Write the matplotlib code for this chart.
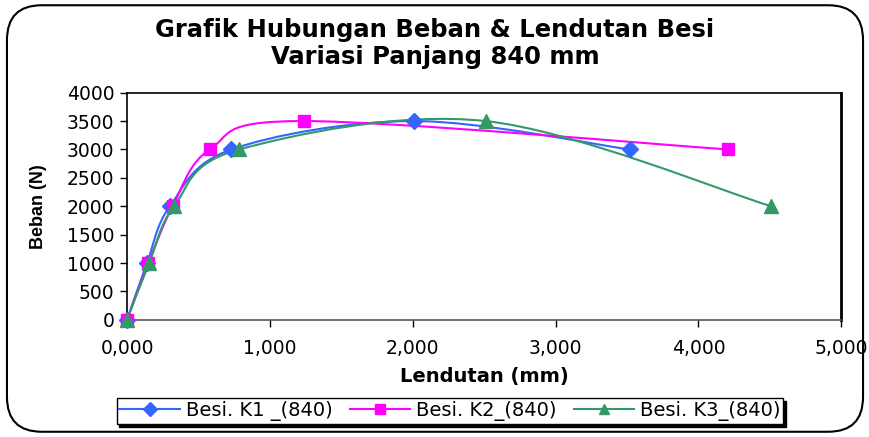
import matplotlib.pyplot as plt
import numpy as np
from matplotlib.path import Path
from matplotlib.patches import PathPatch, FancyBboxPatch
from matplotlib.lines import Line2D

plt.rcParams['font.family'] = ['DejaVu Sans']

beban = [0, 1000, 2000, 3000, 3500, 3000]
lendutan_k1 = [0.0, 0.14, 0.30, 0.73, 2.01, 3.52]

beban_k2 = [0, 1000, 2000, 3000, 3500, 3000]
lendutan_k2 = [0.0, 0.15, 0.32, 0.58, 1.24, 4.21]

beban_k3 = [0, 1000, 2000, 3000, 3500, 2000]
lendutan_k3 = [0.0, 0.155, 0.33, 0.785, 2.51, 4.51]

x_ticks = [0, 1, 2, 3, 4, 5]
x_labels = ['0,000', '1,000', '2,000', '3,000', '4,000', '5,000']
y_ticks = [0, 500, 1000, 1500, 2000, 2500, 3000, 3500, 4000]


# smoothed line through the points (cubic bezier, catmull-rom style)
def smooth_path(ax, xs, ys, color):
    pts = np.array([ax.transData.transform((x, y)) for x, y in zip(xs, ys)])
    verts = [pts[0]]
    codes = [Path.MOVETO]
    n = len(pts)
    for i in range(n - 1):
        p0 = pts[i - 1] if i > 0 else pts[i]
        p1 = pts[i]
        p2 = pts[i + 1]
        p3 = pts[i + 2] if i + 2 < n else pts[i + 1]
        c1 = p1 + (p2 - p0) / 6
        c2 = p2 - (p3 - p1) / 6
        verts += [c1, c2, p2]
        codes += [Path.CURVE4] * 3
    patch = PathPatch(Path(verts, codes), facecolor='none', edgecolor=color, lw=1.5,
                      transform=None, zorder=2)
    ax.add_artist(patch)


fig = plt.figure(figsize=(8.7, 4.37), dpi=100)

# rounded chart border
frame = FancyBboxPatch((0.008, 0.012), 0.984, 0.976, boxstyle='round,pad=0,rounding_size=0.04',
                       transform=fig.transFigure, facecolor='white', edgecolor='black', lw=1.5,
                       mutation_aspect=2.0, zorder=-1)
fig.patches.append(frame)

ax = fig.add_axes([0.146, 0.268, 0.821, 0.52])
ax.set_xlim(0, 5)
ax.set_ylim(0, 4000)

series = [
    (lendutan_k1, beban, '#3366FF', 'D', 8, 'Besi. K1 _(840)'),
    (lendutan_k2, beban_k2, '#FF00FF', 's', 8, 'Besi. K2_(840)'),
    (lendutan_k3, beban_k3, '#339966', '^', 10, 'Besi. K3_(840)'),
]

fig.canvas.draw()
handles = []
for xs, ys, c, m, ms, lab in series:
    smooth_path(ax, xs, ys, c)
    ax.plot(xs, ys, ls='none', marker=m, ms=ms, color=c, zorder=3, clip_on=False)
    handles.append(Line2D([], [], color=c, marker=m, ms=7, lw=1.5, label=lab))

ax.set_xticks(x_ticks)
ax.set_xticklabels(x_labels)
ax.set_yticks(y_ticks)
ax.tick_params(direction='out', length=5, width=1, labelsize=13.5, pad=4)
ax.tick_params(axis='x', pad=9)
for s in ax.spines.values():
    s.set_linewidth(1.2)
ax.spines['right'].set_linewidth(2)
ax.spines['bottom'].set_color('#555555')

ax.set_xlabel('Lendutan (mm)', fontsize=14, fontweight='bold', labelpad=6)
ax.set_ylabel('Beban (N)', fontsize=13, fontweight='bold', labelpad=14,
              family=['Liberation Sans'])

fig.text(0.5, 1 - 30 / 437, 'Grafik Hubungan Beban & Lendutan Besi', ha='center', va='center',
         fontsize=17.5, fontweight='bold')
fig.text(0.5, 1 - 57 / 437, 'Variasi Panjang 840 mm', ha='center', va='center',
         fontsize=17.5, fontweight='bold')

leg = fig.legend(handles=handles, loc='center', bbox_to_anchor=(450 / 870, 1 - 411 / 437), ncol=3,
                 fontsize=14, frameon=True, fancybox=False,
                 shadow={'color': 'black', 'alpha': 1},
                 handlelength=3.1, handletextpad=0.3, columnspacing=0.9,
                 borderpad=0.15, edgecolor='black')
leg.get_frame().set_linewidth(1)

plt.savefig('out.png', dpi=100)
